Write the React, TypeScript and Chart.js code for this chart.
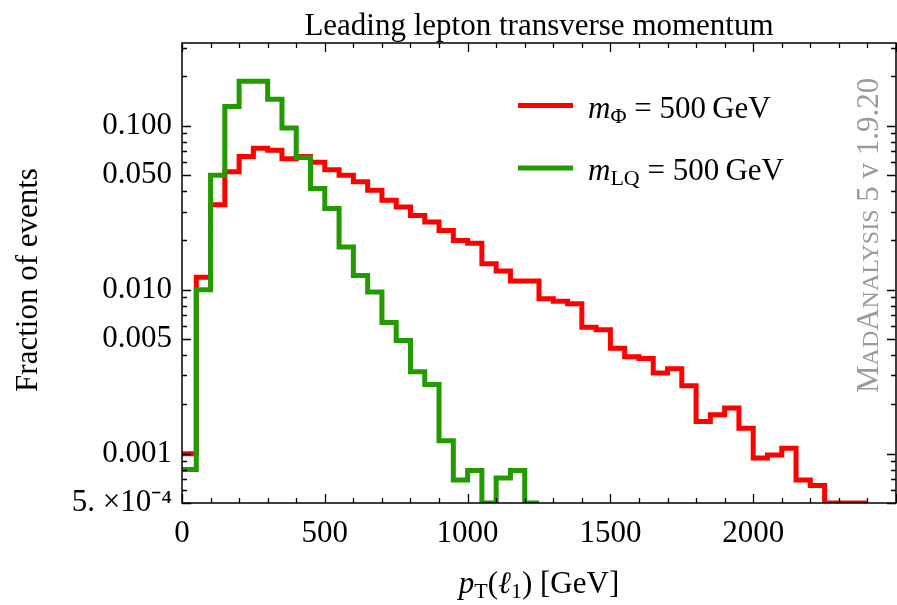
import React, { useEffect, useRef } from "react";
import { Chart, registerables } from "chart.js";

Chart.register(...registerables);

// ---- data ----
const binEdges = [
  0, 50, 100, 150, 200, 250, 300, 350, 400, 450, 500, 550, 600, 650, 700, 750,
  800, 850, 900, 950, 1000, 1050, 1100, 1150, 1200, 1250, 1300, 1350, 1400, 1450,
  1500, 1550, 1600, 1650, 1700, 1750, 1800, 1850, 1900, 1950, 2000, 2050, 2100,
  2150, 2200, 2250, 2300, 2350, 2400,
];

// m_Φ = 500 GeV (red)
const phiValues = [
  0.001, 0.0119, 0.033, 0.0525, 0.065, 0.073, 0.071, 0.063, 0.065, 0.06, 0.054,
  0.05, 0.0455, 0.0404, 0.0352, 0.032, 0.0284, 0.0259, 0.023, 0.02, 0.0192,
  0.0144, 0.013, 0.0113, 0.0113, 0.0088, 0.0085, 0.0082, 0.0059, 0.0057, 0.0044,
  0.0039, 0.0038, 0.0031, 0.0033, 0.0026, 0.00157, 0.00173, 0.0019, 0.00143,
  0.00094, 0.00098, 0.00108, 0.00069, 0.00064, 0.0005, 0.0005, 0.0005,
];

// m_LQ = 500 GeV (green)
const lqValues = [
  0.0008, 0.01, 0.05, 0.131, 0.187, 0.187, 0.145, 0.097, 0.064, 0.0415, 0.0313,
  0.0182, 0.0122, 0.0097, 0.0063, 0.0049, 0.00316, 0.00264, 0.0012, 0.00069,
  0.00079, 0.0005, 0.00071, 0.00079, 0.0005,
];

const xTickValues = [0, 500, 1000, 1500, 2000];
const yTickValues = [0.0005, 0.001, 0.005, 0.01, 0.05, 0.1];
const yTickLabels = ["5. \u00d710\u207b\u2074", "0.001", "0.005", "0.010", "0.050", "0.100"];

const X_MIN = 0;
const X_MAX = 2500;
const Y_MIN = 0.0005;
const Y_MAX = 0.32;

const TITLE = "Leading lepton transverse momentum";
const Y_TITLE = "Fraction of events";
const WATERMARK = [
  { t: "M", big: true },
  { t: "AD", big: false },
  { t: "A", big: true },
  { t: "NALYSIS", big: false },
  { t: " 5 v 1.9.20", big: true },
];

const RED = "#ff0000";
const GREEN = "#229a00";
const SERIF = '"Liberation Serif", "Times New Roman", serif';
const FS = 31;

function histPoints(edges: number[], values: number[]) {
  const pts = values.map((v, i) => ({ x: edges[i], y: v }));
  pts.push({ x: edges[values.length], y: values[values.length - 1] });
  return pts;
}

type Run = { text: string; font: string; dy?: number };

function runsWidth(ctx: CanvasRenderingContext2D, runs: Run[]) {
  let w = 0;
  for (const r of runs) {
    ctx.font = r.font;
    w += ctx.measureText(r.text).width;
  }
  return w;
}

function drawRuns(ctx: CanvasRenderingContext2D, runs: Run[], x: number, y: number) {
  let cx = x;
  ctx.textAlign = "left";
  ctx.textBaseline = "alphabetic";
  for (const r of runs) {
    ctx.font = r.font;
    ctx.fillText(r.text, cx, y + (r.dy || 0));
    cx += ctx.measureText(r.text).width;
  }
}

const decorPlugin = {
  id: "decor",
  afterDatasetsDraw(chart: any) {
    const { ctx, chartArea: a, scales } = chart;
    const xs = scales.x;
    const ys = scales.y;
    ctx.save();
    ctx.strokeStyle = "#000";
    ctx.lineWidth = 1.5;
    ctx.strokeRect(a.left, a.top, a.right - a.left, a.bottom - a.top);
    ctx.lineWidth = 1.3;
    ctx.beginPath();
    for (let v = X_MIN; v <= X_MAX; v += 100) {
      const px = Math.round(xs.getPixelForValue(v)) + 0.5;
      const len = v % 500 === 0 ? 9 : 5;
      ctx.moveTo(px, a.bottom);
      ctx.lineTo(px, a.bottom - len);
      ctx.moveTo(px, a.top);
      ctx.lineTo(px, a.top + len);
    }
    for (let e = -4; e <= -1; e++) {
      for (let m = 1; m <= 9; m++) {
        const v = m * Math.pow(10, e);
        if (v < Y_MIN * 0.999 || v > Y_MAX) continue;
        const py = Math.round(ys.getPixelForValue(v)) + 0.5;
        const len = m === 1 || m === 5 ? 9 : 5;
        ctx.moveTo(a.left, py);
        ctx.lineTo(a.left + len, py);
        ctx.moveTo(a.right, py);
        ctx.lineTo(a.right - len, py);
      }
    }
    ctx.stroke();
    ctx.restore();
  },
  afterDraw(chart: any) {
    const { ctx, chartArea: a } = chart;
    const cx = (a.left + a.right) / 2;
    ctx.save();
    ctx.fillStyle = "#000";

    // title
    ctx.font = `${FS}px ${SERIF}`;
    ctx.textAlign = "center";
    ctx.textBaseline = "alphabetic";
    ctx.fillText(TITLE, cx, 35);

    // x axis title: p_T(ℓ_1) [GeV]
    const big = `${FS}px ${SERIF}`;
    const bigI = `italic ${FS}px ${SERIF}`;
    const sub = `${Math.round(FS * 0.7)}px ${SERIF}`;
    const xRuns: Run[] = [
      { text: "p", font: bigI },
      { text: "T", font: sub, dy: 5 },
      { text: "(", font: big },
      { text: "\u2113", font: bigI },
      { text: "1", font: sub, dy: 5 },
      { text: ") [GeV]", font: big },
    ];
    const xw = runsWidth(ctx, xRuns);
    drawRuns(ctx, xRuns, cx - xw / 2, 593);

    // y axis title
    ctx.save();
    ctx.translate(37, 280);
    ctx.rotate(-Math.PI / 2);
    ctx.font = big;
    ctx.textAlign = "center";
    ctx.fillText(Y_TITLE, 0, 0);
    ctx.restore();

    // legend
    const legend = [
      { color: RED, sub: "\u03a6", lineY: 105.5, textY: 118 },
      { color: GREEN, sub: "LQ", lineY: 168, textY: 180 },
    ];
    for (const item of legend) {
      ctx.strokeStyle = item.color;
      ctx.lineWidth = 5;
      ctx.beginPath();
      ctx.moveTo(518, item.lineY);
      ctx.lineTo(573, item.lineY);
      ctx.stroke();
      ctx.fillStyle = "#000";
      drawRuns(
        ctx,
        [
          { text: "m", font: bigI },
          { text: item.sub, font: sub, dy: 5 },
          { text: " = 500\u2009GeV", font: big },
        ],
        588,
        item.textY
      );
    }

    // watermark
    ctx.save();
    ctx.translate(878, 393);
    ctx.rotate(-Math.PI / 2);
    ctx.fillStyle = "#9a9a9a";
    drawRuns(
      ctx,
      WATERMARK.map((w) => ({ text: w.t, font: w.big ? big : `24px ${SERIF}` })),
      0,
      0
    );
    ctx.restore();

    ctx.restore();
  },
};

export default function App() {
  const ref = useRef<HTMLCanvasElement>(null);

  useEffect(() => {
    if (!ref.current) return;
    const chart = new Chart(ref.current, {
      type: "line",
      data: {
        datasets: [
          {
            label: "m_LQ = 500 GeV",
            data: histPoints(binEdges, lqValues),
            borderColor: GREEN,
            borderWidth: 5,
            stepped: "before",
            pointRadius: 0,
            fill: false,
            borderJoinStyle: "miter",
            order: 1,
          },
          {
            label: "m_Φ = 500 GeV",
            data: histPoints(binEdges, phiValues),
            borderColor: RED,
            borderWidth: 5,
            stepped: "before",
            pointRadius: 0,
            fill: false,
            borderJoinStyle: "miter",
            order: 2,
          },
        ],
      },
      options: {
        responsive: false,
        animation: false,
        events: [],
        layout: { padding: { top: 43, right: 1, left: 0, bottom: 0 } },
        plugins: {
          legend: { display: false },
          tooltip: { enabled: false },
          title: { display: false },
        },
        scales: {
          x: {
            type: "linear",
            min: X_MIN,
            max: X_MAX,
            grid: { display: false, drawTicks: false, tickLength: 0 },
            border: { display: false },
            afterBuildTicks: (s: any) => {
              s.ticks = xTickValues.map((v) => ({ value: v }));
            },
            afterFit: (s: any) => {
              s.height = 102;
            },
            ticks: {
              maxRotation: 0,
              autoSkip: false,
              padding: 12,
              color: "#000",
              font: { family: SERIF, size: FS },
              callback: (v: any) => String(v),
            },
          },
          y: {
            type: "logarithmic",
            min: Y_MIN,
            max: Y_MAX,
            grid: { display: false, drawTicks: false, tickLength: 0 },
            border: { display: false },
            afterBuildTicks: (s: any) => {
              s.ticks = yTickValues.map((v) => ({ value: v }));
            },
            afterFit: (s: any) => {
              s.width = 182;
            },
            ticks: {
              autoSkip: false,
              padding: 10,
              color: "#000",
              font: { family: SERIF, size: FS },
              callback: (v: any) => {
                const i = yTickValues.findIndex((t) => Math.abs(t - v) / t < 1e-6);
                return i >= 0 ? yTickLabels[i] : "";
              },
            },
          },
        },
      },
      plugins: [decorPlugin],
    } as any);
    return () => chart.destroy();
  }, []);

  return (
    <div style={{ position: "absolute", left: 0, top: 0, width: 897, height: 605, background: "#fff" }}>
      <canvas ref={ref} width={897} height={605} style={{ display: "block" }} />
    </div>
  );
}
